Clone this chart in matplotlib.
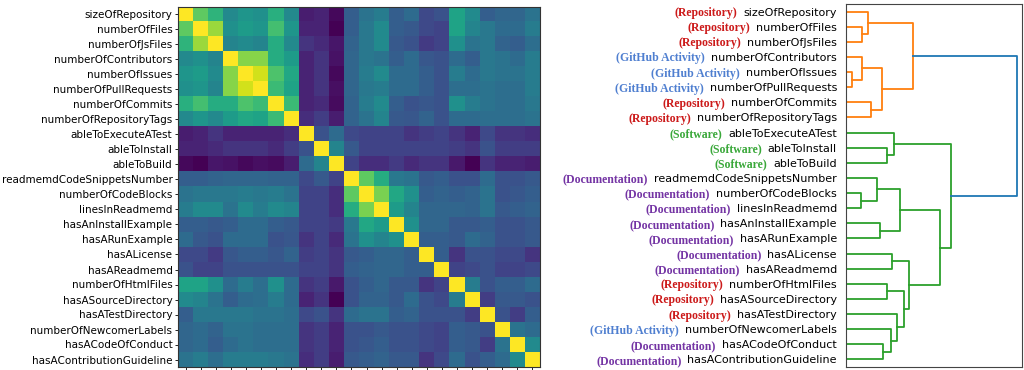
import numpy as np
import matplotlib
matplotlib.use("Agg")
import matplotlib.pyplot as plt
from matplotlib.transforms import blended_transform_factory

features = [
    "sizeOfRepository", "numberOfFiles", "numberOfJsFiles", "numberOfContributors",
    "numberOfIssues", "numberOfPullRequests", "numberOfCommits", "numberOfRepositoryTags",
    "ableToExecuteATest", "ableToInstall", "ableToBuild", "readmemdCodeSnippetsNumber",
    "numberOfCodeBlocks", "linesInReadmemd", "hasAnInstallExample", "hasARunExample",
    "hasALicense", "hasAReadmemd", "numberOfHtmlFiles", "hasASourceDirectory",
    "hasATestDirectory", "numberOfNewcomerLabels", "hasACodeOfConduct",
    "hasAContributionGuideline",
]

categories = [
    "Repository", "Repository", "Repository", "GitHub Activity", "GitHub Activity",
    "GitHub Activity", "Repository", "Repository", "Software", "Software", "Software",
    "Documentation", "Documentation", "Documentation", "Documentation", "Documentation",
    "Documentation", "Documentation", "Repository", "Repository", "Repository",
    "GitHub Activity", "Documentation", "Documentation",
]

category_colors = {
    "Repository": "#cc1a1a",
    "GitHub Activity": "#4f7fd0",
    "Software": "#3aa83a",
    "Documentation": "#7434a4",
}

# upper triangle of the (rescaled) correlation matrix, row i -> columns i+1..23
upper = [
    [0.75, 0.65, 0.47, 0.52, 0.50, 0.63, 0.47, 0.08, 0.10, 0.02, 0.30, 0.38, 0.42, 0.30, 0.35, 0.22, 0.25, 0.58, 0.48, 0.30, 0.33, 0.33, 0.38],
    [0.85, 0.50, 0.55, 0.52, 0.70, 0.52, 0.10, 0.10, 0.00, 0.30, 0.40, 0.48, 0.30, 0.28, 0.22, 0.20, 0.58, 0.45, 0.40, 0.35, 0.35, 0.42],
    [0.45, 0.48, 0.45, 0.62, 0.47, 0.15, 0.12, 0.06, 0.32, 0.40, 0.48, 0.28, 0.25, 0.17, 0.20, 0.50, 0.38, 0.40, 0.32, 0.30, 0.36],
    [0.82, 0.82, 0.62, 0.55, 0.10, 0.15, 0.05, 0.33, 0.40, 0.38, 0.30, 0.35, 0.27, 0.25, 0.35, 0.30, 0.40, 0.38, 0.35, 0.42],
    [0.93, 0.72, 0.60, 0.10, 0.15, 0.02, 0.33, 0.42, 0.48, 0.35, 0.35, 0.30, 0.25, 0.42, 0.35, 0.40, 0.38, 0.38, 0.42],
    [0.68, 0.58, 0.10, 0.15, 0.04, 0.33, 0.40, 0.42, 0.35, 0.35, 0.30, 0.25, 0.36, 0.36, 0.38, 0.36, 0.36, 0.42],
    [0.68, 0.10, 0.12, 0.03, 0.32, 0.42, 0.48, 0.30, 0.25, 0.27, 0.25, 0.50, 0.42, 0.38, 0.36, 0.36, 0.40],
    [0.13, 0.18, 0.08, 0.32, 0.38, 0.45, 0.28, 0.27, 0.32, 0.25, 0.35, 0.35, 0.36, 0.36, 0.36, 0.38],
    [0.25, 0.35, 0.22, 0.20, 0.20, 0.20, 0.15, 0.18, 0.20, 0.15, 0.10, 0.22, 0.15, 0.15, 0.13],
    [0.45, 0.28, 0.20, 0.20, 0.20, 0.20, 0.20, 0.20, 0.18, 0.15, 0.25, 0.18, 0.18, 0.18],
    [0.20, 0.13, 0.13, 0.17, 0.12, 0.15, 0.15, 0.07, 0.00, 0.15, 0.10, 0.10, 0.08],
    [0.75, 0.62, 0.40, 0.38, 0.28, 0.30, 0.25, 0.25, 0.35, 0.25, 0.25, 0.28],
    [0.80, 0.60, 0.50, 0.30, 0.32, 0.30, 0.32, 0.38, 0.25, 0.27, 0.30],
    [0.55, 0.45, 0.33, 0.33, 0.33, 0.32, 0.38, 0.28, 0.30, 0.32],
    [0.50, 0.33, 0.33, 0.28, 0.28, 0.30, 0.25, 0.25, 0.28],
    [0.30, 0.30, 0.28, 0.35, 0.32, 0.25, 0.25, 0.28],
    [0.30, 0.15, 0.25, 0.25, 0.22, 0.22, 0.15],
    [0.20, 0.22, 0.25, 0.20, 0.20, 0.22],
    [0.42, 0.25, 0.30, 0.30, 0.35],
    [0.18, 0.28, 0.28, 0.25],
    [0.25, 0.18, 0.30],
    [0.38, 0.35],
    [0.48],
]

# linkage: (child a, child b, height); ids >= 24 are earlier merges
merges = [
    (1, 2, 16.0), (0, 24, 22.0), (4, 5, 6.0), (3, 26, 16.0), (6, 7, 25.3),
    (27, 28, 36.0), (25, 29, 67.7), (9, 10, 41.7), (8, 31, 48.3), (12, 13, 15.0),
    (11, 33, 31.0), (14, 15, 33.7), (34, 35, 54.3), (16, 17, 46.7), (18, 19, 41.7),
    (22, 23, 36.7), (21, 39, 45.3), (20, 40, 51.7), (38, 41, 58.7), (37, 42, 63.7),
    (36, 43, 94.3), (32, 44, 106.0), (30, 45, 171.7),
]
color_threshold = 120.0

n = len(features)
corr = np.eye(n)
for i, row in enumerate(upper):
    for k, v in enumerate(row):
        j = i + 1 + k
        corr[i, j] = v
        corr[j, i] = v

fig = plt.figure(figsize=(10.24, 3.7), dpi=100)

# heatmap
ax1 = fig.add_axes([178 / 1024, 1 - 367 / 370, 362 / 1024, 360 / 370])
ax1.imshow(corr, cmap="viridis", vmin=0, vmax=1, aspect="auto", interpolation="nearest")
ax1.set_yticks(range(n))
ax1.set_yticklabels(features, fontsize=7.5)
ax1.set_xticks(range(n))
ax1.set_xticklabels([])
ax1.tick_params(length=2.5, width=0.6, pad=1.5)
for s in ax1.spines.values():
    s.set_linewidth(0.8)
    s.set_color("#333333")

# dendrogram
ax2 = fig.add_axes([846 / 1024, 1 - 367 / 370, 176 / 1024, 363 / 370])
pos = {i: float(i) for i in range(n)}
hgt = {i: 0.0 for i in range(n)}
for k, (a, b, h) in enumerate(merges):
    pos[n + k] = (pos[a] + pos[b]) / 2
    hgt[n + k] = h

# colour each link: links above threshold blue, clusters below in C1, C2...
link_color = {}
palette = ["C1", "C2", "C3", "C4"]
next_c = [0]

def assign(node, col):
    if node < n:
        return
    a, b, h = merges[node - n]
    if col is None and h < color_threshold:
        col = palette[next_c[0]]
        next_c[0] += 1
    link_color[node] = col if col is not None else "C0"
    assign(a, col)
    assign(b, col)

assign(n + len(merges) - 1, None)

for k, (a, b, h) in enumerate(merges):
    node = n + k
    xs = [hgt[a], h, h, hgt[b]]
    ys = [pos[a], pos[a], pos[b], pos[b]]
    ax2.plot(xs, ys, color=link_color[node], lw=1.3)

ax2.set_xlim(0, merges[-1][2] * 1.03)
ax2.set_ylim(n - 0.5, -0.5)
ax2.set_xticks([])
ax2.set_yticks(range(n))
ax2.set_yticklabels(features, fontsize=8)
ax2.tick_params(axis="y", length=0, pad=6.5)
for s in ax2.spines.values():
    s.set_linewidth(0.8)
    s.set_color("#444444")

# category prefixes in front of the dendrogram labels
fig.canvas.draw()
renderer = fig.canvas.get_renderer()
ax_box = ax2.get_window_extent(renderer)
trans = blended_transform_factory(ax2.transAxes, ax2.transData)
for i, lab in enumerate(ax2.get_yticklabels()):
    bb = lab.get_window_extent(renderer)
    xa = (bb.x0 - 6 - ax_box.x0) / ax_box.width
    ax2.text(xa, i, "(" + categories[i] + ")", transform=trans, ha="right",
             va="center_baseline", fontsize=8.5, fontweight="bold",
             family="Liberation Serif", color=category_colors[categories[i]],
             clip_on=False)

fig.savefig("out.png", dpi=100)
